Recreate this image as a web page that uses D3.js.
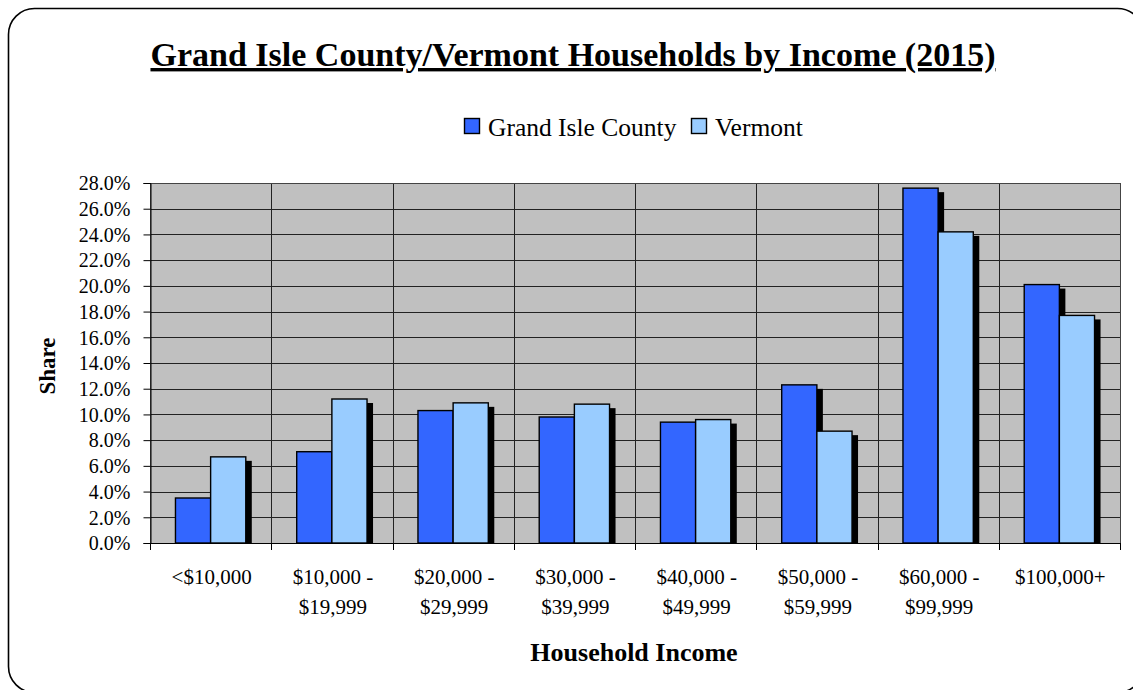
<!DOCTYPE html>
<html>
<head>
<meta charset="utf-8">
<script src="https://cdn.jsdelivr.net/npm/d3@7"></script>
<style>
  html, body { margin: 0; padding: 0; background: #fff; }
  svg { display: block; }
  text { font-family: "Liberation Serif", "Times New Roman", serif; fill: #000; }
</style>
</head>
<body>
<svg id="chart" width="1133" height="690"></svg>
<script>
// Household income brackets and share of households (percent)
const categories = [
  ["<$10,000"],
  ["$10,000 -", "$19,999"],
  ["$20,000 -", "$29,999"],
  ["$30,000 -", "$39,999"],
  ["$40,000 -", "$49,999"],
  ["$50,000 -", "$59,999"],
  ["$60,000 -", "$99,999"],
  ["$100,000+"]
];
const seriesNames = ["Grand Isle County", "Vermont"];
const grandIsle = [3.5, 7.1, 10.3, 9.8, 9.4, 12.3, 27.6, 20.1];
const vermont   = [6.7, 11.2, 10.9, 10.8, 9.6, 8.7, 24.2, 17.7];
const yTicks = [0, 2, 4, 6, 8, 10, 12, 14, 16, 18, 20, 22, 24, 26, 28];
const colors = ["#3366ff", "#99ccff"];

const svg = d3.select("#chart");
const plot = { left: 150, right: 1120, top: 183, bottom: 543 };

// outer rounded frame
svg.append("rect")
  .attr("x", 8.5).attr("y", 8.5)
  .attr("width", 1135).attr("height", 684)
  .attr("rx", 26).attr("ry", 26)
  .attr("fill", "#fff").attr("stroke", "#000").attr("stroke-width", 1.6);

// title with underline
svg.append("text")
  .attr("x", 573).attr("y", 66)
  .attr("text-anchor", "middle")
  .style("font-size", "34px").style("font-weight", "bold")
  .style("text-decoration", "underline")
  .text("Grand Isle County/Vermont Households by Income (2015)");

const keys = categories.map((c, i) => "c" + i);
const x0 = d3.scaleBand().domain(keys).range([plot.left, plot.right]).paddingInner(0).paddingOuter(0);
const bw = x0.bandwidth();
const x1 = d3.scaleBand().domain(seriesNames).range([bw * 0.21, bw * 0.79]).padding(0);
const y = d3.scaleLinear().domain([0, 28]).range([plot.bottom, plot.top]);

// plot background
svg.append("rect")
  .attr("x", plot.left).attr("y", plot.top)
  .attr("width", plot.right - plot.left).attr("height", plot.bottom - plot.top)
  .attr("fill", "#c0c0c0");

// horizontal gridlines
svg.append("g").selectAll("line").data(yTicks).join("line")
  .attr("x1", plot.left).attr("x2", plot.right)
  .attr("y1", d => Math.round(y(d)) + 0.5).attr("y2", d => Math.round(y(d)) + 0.5)
  .attr("stroke", "#222").attr("stroke-width", 1);

// vertical gridlines at category boundaries
const bounds = keys.map(k => x0(k)).concat([plot.right]);
svg.append("g").selectAll("line").data(bounds).join("line")
  .attr("x1", d => Math.round(d) + 0.5).attr("x2", d => Math.round(d) + 0.5)
  .attr("y1", plot.top).attr("y2", plot.bottom)
  .attr("stroke", "#222").attr("stroke-width", 1);

// plot frame
svg.append("rect")
  .attr("x", plot.left + 0.5).attr("y", plot.top + 0.5)
  .attr("width", plot.right - plot.left).attr("height", plot.bottom - plot.top)
  .attr("fill", "none").attr("stroke", "#444").attr("stroke-width", 1);

// bars with drop shadows
const rows = keys.map((k, i) => ({ key: k, vals: [grandIsle[i], vermont[i]] }));
const groups = svg.append("g").selectAll("g").data(rows).join("g")
  .attr("transform", d => `translate(${x0(d.key)},0)`);
seriesNames.forEach((s, si) => {
  groups.append("rect")
    .attr("x", x1(s) + 6)
    .attr("y", d => y(d.vals[si]) + 4)
    .attr("width", x1.bandwidth())
    .attr("height", d => plot.bottom - y(d.vals[si]) - 4)
    .attr("fill", "#000");
  groups.append("rect")
    .attr("x", x1(s))
    .attr("y", d => y(d.vals[si]))
    .attr("width", x1.bandwidth())
    .attr("height", d => plot.bottom - y(d.vals[si]))
    .attr("fill", colors[si])
    .attr("stroke", "#000").attr("stroke-width", 1.4);
});

// y axis
const yAxis = svg.append("g")
  .attr("transform", `translate(${plot.left + 0.5},0)`)
  .call(d3.axisLeft(y).tickValues(yTicks).tickSize(7).tickPadding(13)
    .tickFormat(d => d.toFixed(1) + "%"));
yAxis.select(".domain").attr("stroke", "#000");
yAxis.selectAll(".tick line").attr("stroke", "#000");
yAxis.selectAll("text")
  .style("font-family", "'Liberation Serif', 'Times New Roman', serif")
  .style("font-size", "20px").attr("dy", "0.34em");

// x axis line and boundary ticks
svg.append("line")
  .attr("x1", plot.left).attr("x2", plot.right)
  .attr("y1", plot.bottom + 0.5).attr("y2", plot.bottom + 0.5)
  .attr("stroke", "#000").attr("stroke-width", 1.2);
svg.append("g").selectAll("line").data(bounds).join("line")
  .attr("x1", d => Math.round(d) + 0.5).attr("x2", d => Math.round(d) + 0.5)
  .attr("y1", plot.bottom).attr("y2", plot.bottom + 7)
  .attr("stroke", "#000");

// category labels
const xl = svg.append("g").selectAll("text").data(rows).join("text")
  .attr("text-anchor", "middle")
  .style("font-size", "21px")
  .attr("x", d => x0(d.key) + bw / 2 + 1)
  .attr("y", 584);
xl.selectAll("tspan").data((d, i) => categories[i]).join("tspan")
  .attr("x", function () { return this.parentNode.getAttribute("x"); })
  .attr("dy", (d, j) => j === 0 ? 0 : 30)
  .text(d => d);

// axis titles
svg.append("text")
  .attr("x", 634).attr("y", 661)
  .attr("text-anchor", "middle")
  .style("font-size", "26px").style("font-weight", "bold")
  .text("Household Income");
svg.append("text")
  .attr("transform", "translate(55,366) rotate(-90)")
  .attr("text-anchor", "middle")
  .style("font-size", "23px").style("font-weight", "bold")
  .text("Share");

// legend
const legend = svg.append("g");
const legendPos = [464, 691];
seriesNames.forEach((s, i) => {
  legend.append("rect")
    .attr("x", legendPos[i] + 0.5).attr("y", 118.5)
    .attr("width", 15).attr("height", 15)
    .attr("fill", colors[i]).attr("stroke", "#000").attr("stroke-width", 1.4);
  legend.append("text")
    .attr("x", legendPos[i] + 24).attr("y", 136)
    .style("font-size", "25.5px")
    .text(s);
});
</script>
</body>
</html>
